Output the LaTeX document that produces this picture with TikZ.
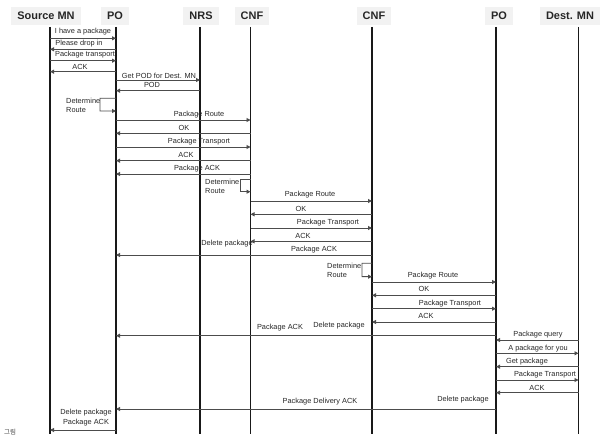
\documentclass[tikz,border=0pt]{standalone}
\usepackage{fontspec}
\setmainfont{Liberation Sans}
\newfontfamily\krfont{Noto Sans CJK KR}
\usetikzlibrary{arrows.meta}
\newcommand\msgarrow[3]{\draw[msgline] (#1 |- 0,#3) -- (#2 |- 0,#3);}
\newcommand\selfloop[4]{\draw[msgline] (#1 |- 0,#2) -- ++(-#4,0) -- ++(0,#3-#2) -- (#1 |- 0,#3);}
\begin{document}
\begin{tikzpicture}[x=1bp,y=-1bp,
  hdr/.style={fill=black!5, inner xsep=6bp, inner ysep=0pt, minimum height=18bp,
    font=\fontsize{11}{13}\selectfont\bfseries, text=black!85},
  life/.style={draw=black!90, line width=1.2bp},
  msgline/.style={draw=black!70, line width=0.9bp, -{Triangle[length=4bp,width=4bp]}},
  lbl/.style={font=\fontsize{7.4}{8.7}\selectfont, inner sep=0pt, text=black!85},
  looplbl/.style={lbl, anchor=north west, align=left},
]
\useasboundingbox (0,0) rectangle (600,436);
% headers
\node[hdr] (hsrc) at (46,16) {Source MN};
\node[hdr] (hpo) at (115,16) {PO};
\node[hdr] (hnrs) at (201,16) {NRS};
\node[hdr] (hcnf) at (252,16) {CNF};
\node[hdr] (hcnfb) at (374,16) {CNF};
\node[hdr] (hpob) at (499,16) {PO};
\node[hdr] (hdst) at (570,16) {Dest. MN};
% lifelines
\coordinate (S) at (50,27);
\coordinate (P) at (116,27);
\coordinate (N) at (200,27);
\coordinate (C) at (250.5,27);
\coordinate (D) at (372,27);
\coordinate (Q) at (496,27);
\coordinate (M) at (578.5,27);
\foreach \c in {S,P,N,C,D,Q,M} \draw[life] (\c) -- (\c |- 0,434);
% messages
\msgarrow{S}{P}{38.3}  \node[lbl] (l1) at (83,32) {I have a package};
\msgarrow{P}{S}{49.3}  \node[lbl] (l2) at (79,43.5) {Please drop in};
\msgarrow{S}{P}{60.7}  \node[lbl] (l3) at (85,55) {Package transport};
\msgarrow{P}{S}{71.7}  \node[lbl] (l4) at (80,66.5) {ACK};
\msgarrow{P}{N}{80}    \node[lbl] (l5) at (159,75.5) {Get POD for Dest. MN};
\msgarrow{N}{P}{90.7}  \node[lbl] (l6) at (152,85) {POD};
\selfloop{P}{98.3}{111}{16} \node[looplbl] (l7) at (66,98.3) {Determine\\Route};
\msgarrow{P}{C}{120}   \node[lbl] (l8) at (199,115) {Package Route};
\msgarrow{C}{P}{133.3} \node[lbl] (l9) at (184,128) {OK};
\msgarrow{P}{C}{147}   \node[lbl] (l10) at (199,141.5) {Package Transport};
\msgarrow{C}{P}{160.7} \node[lbl] (l11) at (186,155) {ACK};
\msgarrow{C}{P}{174}   \node[lbl] (l12) at (197,169) {Package ACK};
\selfloop{C}{179}{191.7}{10.5} \node[looplbl] (l13) at (205,179) {Determine\\Route};
\msgarrow{C}{D}{201}   \node[lbl] (l14) at (310,195) {Package Route};
\msgarrow{D}{C}{214.3} \node[lbl] (l15) at (301,209) {OK};
\msgarrow{C}{D}{228}   \node[lbl] (l16) at (328,222.3) {Package Transport};
\msgarrow{D}{C}{241.3} \node[lbl] (l17) at (303,236) {ACK};
\node[lbl] (l17b) at (227,244) {Delete package};
\msgarrow{D}{P}{255}   \node[lbl] (l18) at (314,249.3) {Package ACK};
\selfloop{D}{263.3}{276.7}{10} \node[looplbl] (l19) at (327,263.3) {Determine\\Route};
\msgarrow{D}{Q}{282}   \node[lbl] (l20) at (433,276) {Package Route};
\msgarrow{Q}{D}{295.3} \node[lbl] (l21) at (424,289) {OK};
\msgarrow{D}{Q}{308.7} \node[lbl] (l22) at (450,303.3) {Package Transport};
\msgarrow{Q}{D}{322}   \node[lbl] (l23) at (426,316) {ACK};
\node[lbl] (l23b) at (339,326) {Delete package};
\msgarrow{Q}{P}{335.7} \node[lbl] (l24) at (280,327.3) {Package ACK};
\msgarrow{M}{Q}{340}   \node[lbl] (l25) at (538,334.3) {Package query};
\msgarrow{Q}{M}{353.3} \node[lbl] (l26) at (538,348.5) {A package for you};
\msgarrow{M}{Q}{366.7} \node[lbl] (l27) at (527,362) {Get package};
\msgarrow{Q}{M}{380}   \node[lbl] (l28) at (545,374.3) {Package Transport};
\msgarrow{M}{Q}{392.7} \node[lbl] (l29) at (537,388) {ACK};
\msgarrow{Q}{P}{409}   \node[lbl] (l30) at (320,402) {Package Delivery ACK};
\node[lbl] (l30b) at (463,400) {Delete package};
\msgarrow{P}{S}{430}
\node[lbl] (l31) at (86,413) {Delete package};
\node[lbl] (l32) at (86,423) {Package ACK};
% caption fragment
\node[font=\krfont\fontsize{6.5}{7}\selectfont, text=black!75, anchor=south west, inner sep=0pt] (cap) at (4,435.5) {그림};
\end{tikzpicture}
\end{document}
